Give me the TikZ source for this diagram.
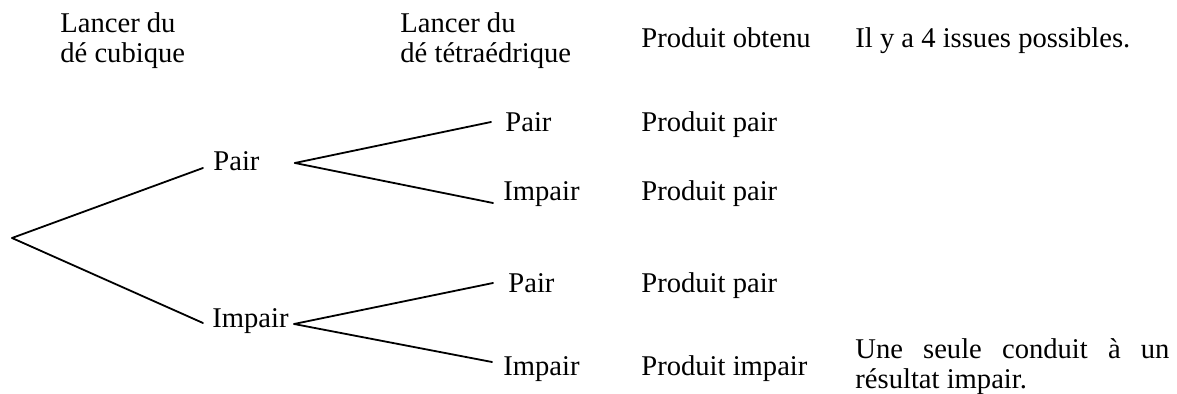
\documentclass[tikz,border=0pt]{standalone}
\usepackage{fontspec}
\setmainfont{Liberation Serif}
\newcommand{\twoln}[2]{\begin{tabular}[t]{@{}l@{}}#1\\#2\end{tabular}}
\begin{document}
\begin{tikzpicture}[x=0.5pt,y=-0.5pt,
  txt/.style={inner sep=0pt,anchor=base west,font=\fontsize{14.3}{15}\selectfont},
  branch/.style={line width=0.9pt,line cap=round}]
\useasboundingbox (0,0) rectangle (1177,394);
% headers
\node[txt] (h1) at (60,33) {\twoln{Lancer du}{dé cubique}};
\node[txt] (h2) at (400,33) {\twoln{Lancer du}{dé tétraédrique}};
\node[txt] (h3) at (641,48) {Produit obtenu};
\node[txt] (h4) at (855,48) {Il y a 4 issues possibles.};
% first level
\coordinate (root) at (12,238);
\node[txt] (n1) at (213,171) {Pair};
\node[txt] (n2) at (212,328) {Impair};
% second level
\node[txt] (l1) at (505,132) {Pair};
\node[txt] (l2) at (503,201) {Impair};
\node[txt] (l3) at (508,293) {Pair};
\node[txt] (l4) at (503,376) {Impair};
% products
\node[txt] (p1) at (641,132) {Produit pair};
\node[txt] (p2) at (641,201) {Produit pair};
\node[txt] (p3) at (641,293) {Produit pair};
\node[txt] (p4) at (641,376) {Produit impair};
\node[txt] (note) at (855,359) {\twoln{\makebox[157pt][s]{Une seule conduit à un}}{résultat impair.}};
% branches
\draw[branch] (root) -- ([shift={(-10,-3)}]n1.base west);
\draw[branch] (root) -- ([shift={(-9,-5)}]n2.base west);
\draw[branch] ([shift={(35,-8)}]n1.base east) -- ([shift={(-14,-10)}]l1.base west);
\draw[branch] ([shift={(35,-8)}]n1.base east) -- ([shift={(-10,2)}]l2.base west);
\draw[branch] ([shift={(5,-4)}]n2.base east) -- ([shift={(-15,-10)}]l3.base west);
\draw[branch] ([shift={(5,-4)}]n2.base east) -- ([shift={(-11,-14)}]l4.base west);
\end{tikzpicture}
\end{document}
